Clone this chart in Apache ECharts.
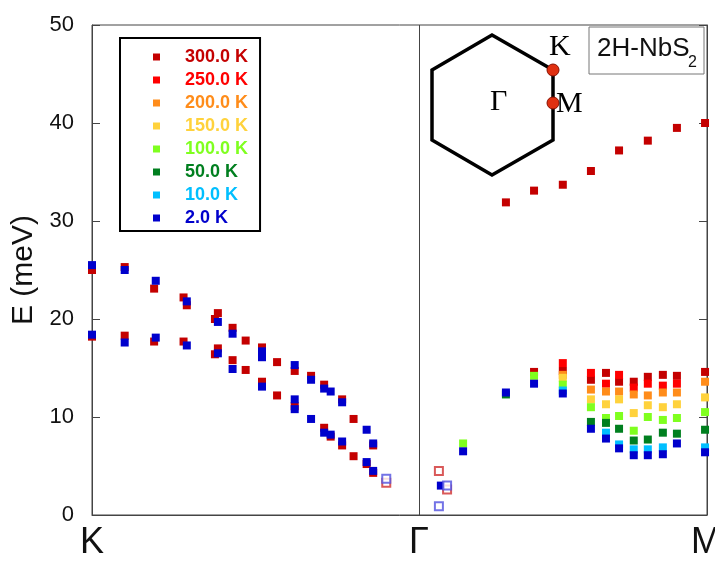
<!DOCTYPE html>
<html>
<head>
<meta charset="utf-8">
<script src="https://cdn.jsdelivr.net/npm/echarts@6/dist/echarts.min.js"></script>
<style>
  html, body { margin: 0; padding: 0; background: #fff; }
  #main { width: 715px; height: 562px; }
</style>
</head>
<body>
<div id="main"></div>
<script>
// momentum along K -> Γ -> M (K = 0, Γ = 1, M = 1.878), energy in meV
var pathLabels = ['K', 'Γ', 'M'];
var pathPos = [0, 1, 1.878];
var yTicks = [0, 10, 20, 30, 40, 50];

var tempNames = ['300.0 K', '250.0 K', '200.0 K', '150.0 K', '100.0 K', '50.0 K', '10.0 K', '2.0 K'];
var tempColors = ['#c40000', '#ff0000', '#ff8c1a', '#ffd23c', '#7fff1f', '#007f1f', '#00bfff', '#0000cc'];

var t300 = [
    [0, 25.0], [0.10, 25.3], [0.19, 23.1], [0.28, 22.2], [0.29, 21.4], [0.385, 20.6], [0.376, 20.0],
    [0.43, 19.1], [0.47, 17.8], [0.52, 17.1], [0.566, 15.6], [0.62, 14.7], [0.67, 14.2], [0.71, 13.3],
    [0.765, 11.8], [0.80, 9.8], [0.86, 7.1],
    [0, 18.2], [0.10, 18.3], [0.19, 17.7], [0.28, 17.7], [0.385, 17.0], [0.376, 16.4], [0.43, 15.8],
    [0.47, 14.8], [0.52, 13.6], [0.566, 12.2], [0.62, 11.1], [0.71, 8.9], [0.73, 8.0], [0.765, 7.1],
    [0.80, 6.0], [0.84, 5.2], [0.86, 4.3],
    [1.266, 31.9], [1.352, 33.1], [1.44, 33.7], [1.526, 35.1], [1.612, 37.2], [1.70, 38.2], [1.789, 39.5], [1.875, 40.0],
    [1.352, 14.6], [1.44, 14.7], [1.526, 13.8], [1.572, 14.5], [1.612, 13.6], [1.657, 13.6], [1.70, 14.1],
    [1.746, 14.3], [1.789, 14.2], [1.875, 14.6]
];
var t250 = [[1.44, 15.5], [1.526, 14.5], [1.572, 13.4], [1.612, 14.3], [1.657, 13.0], [1.70, 13.4], [1.746, 13.2], [1.789, 13.4]];
var t200 = [[1.44, 14.3], [1.526, 12.8], [1.572, 12.6], [1.612, 12.6], [1.657, 12.3], [1.70, 12.2], [1.746, 12.5], [1.789, 12.5], [1.875, 13.6]];
var t150 = [[1.44, 14.0], [1.526, 11.8], [1.572, 11.3], [1.612, 11.8], [1.657, 10.4], [1.70, 11.2], [1.746, 11.0], [1.789, 11.3], [1.875, 12.0]];
var t100 = [[1.135, 7.3], [1.352, 14.2], [1.44, 13.3], [1.526, 11.0], [1.572, 9.9], [1.612, 10.1], [1.657, 8.6], [1.70, 10.0], [1.746, 9.7], [1.789, 9.9], [1.875, 10.5]];
var t50 = [[1.266, 12.3], [1.526, 9.5], [1.572, 9.4], [1.612, 8.8], [1.657, 7.6], [1.70, 7.7], [1.746, 8.4], [1.789, 8.3], [1.875, 8.7]];
var t10 = [[1.44, 12.7], [1.572, 8.4], [1.612, 7.2], [1.657, 6.7], [1.70, 6.7], [1.746, 6.9], [1.875, 6.9]];
var t2 = [
    [0, 25.5], [0.10, 25.0], [0.195, 23.9], [0.29, 21.8], [0.385, 19.7], [0.43, 18.5], [0.52, 16.7], [0.52, 16.1],
    [0.62, 15.3], [0.67, 13.8], [0.71, 12.9], [0.73, 12.6], [0.765, 11.5], [0.84, 8.7], [0.86, 7.3],
    [0, 18.4], [0.10, 17.6], [0.195, 18.1], [0.29, 17.3], [0.385, 16.5], [0.43, 14.9], [0.52, 13.1],
    [0.62, 11.8], [0.62, 10.8], [0.67, 9.8], [0.71, 8.4], [0.73, 8.2], [0.765, 7.5], [0.84, 5.4], [0.86, 4.5],
    [1.067, 3.0], [1.135, 6.5], [1.266, 12.5], [1.352, 13.4], [1.44, 12.4], [1.526, 8.8], [1.572, 7.8],
    [1.612, 6.8], [1.657, 6.1], [1.70, 6.1], [1.746, 6.2], [1.789, 7.3], [1.875, 6.4]
];
// open symbols (weak / uncertain points)
var t300open = [[0.90, 3.3], [1.061, 4.5], [1.086, 2.6]];
var t2open = [[0.90, 3.7], [1.061, 0.9], [1.086, 3.0]];

var tempData = [t300, t250, t200, t150, t100, t50, t10, t2];

var chart = echarts.init(document.getElementById('main'), null, { renderer: 'canvas' });

var series = tempData.map(function (d, i) {
    return {
        name: tempNames[i],
        type: 'scatter',
        symbol: 'rect',
        symbolSize: 8,
        itemStyle: { color: tempColors[i], opacity: 1 },
        data: d,
        z: 2 + i
    };
});
series.unshift({
    name: '300 open',
    type: 'scatter',
    symbol: 'emptyRect',
    symbolSize: 8,
    itemStyle: { color: '#d03030', borderColor: '#d03030', borderWidth: 1 },
    data: t300open,
    markLine: {
        silent: true,
        symbol: 'none',
        label: { show: false },
        lineStyle: { color: '#444', width: 1, type: 'solid' },
        data: [{ xAxis: pathPos[1] }]
    }
});
series.push({
    name: '2 open',
    type: 'scatter',
    symbol: 'emptyRect',
    symbolSize: 8,
    itemStyle: { color: '#5050e0', borderColor: '#5050e0', borderWidth: 1 },
    data: t2open,
    z: 20
});

var option = {
    backgroundColor: '#fff',
    animation: false,
    grid: {
        left: 92, right: 8, top: 25, bottom: 47,
        outerBoundsMode: 'none',
        containLabel: false,
        show: true, borderColor: '#444', borderWidth: 1
    },
    legend: {
        left: 120,
        top: 38,
        orient: 'vertical',
        itemWidth: 7,
        itemHeight: 7,
        itemGap: 5,
        padding: [10, 12, 4, 33],
        borderColor: '#000',
        borderWidth: 2,
        icon: 'rect',
        textStyle: {
            fontFamily: 'Liberation Sans',
            fontWeight: 'bold',
            fontSize: 18,
            lineHeight: 18,
            padding: [0, 0, 0, 20]
        },
        data: tempNames.map(function (n, i) {
            return { name: n, textStyle: { color: tempColors[i] } };
        })
    },
    xAxis: {
        type: 'value',
        min: 0,
        max: 1.881,
        axisLine: { show: true, lineStyle: { color: '#444' } },
        axisTick: { show: false },
        splitLine: { show: false },
        axisLabel: {
            customValues: pathPos,
            formatter: function (v) {
                var k = pathPos.indexOf(v);
                return k >= 0 ? pathLabels[k] : '';
            },
            fontFamily: 'Liberation Sans',
            fontSize: 36,
            color: '#111',
            margin: 10
        }
    },
    yAxis: [
        {
            type: 'value',
            min: 0,
            max: 50,
            interval: 10,
            name: 'E (meV)',
            nameLocation: 'middle',
            nameGap: 52,
            nameTextStyle: { fontFamily: 'Liberation Sans', fontSize: 30, color: '#111' },
            axisLine: { show: true, lineStyle: { color: '#444' } },
            axisTick: { show: true, inside: true, length: 8, lineStyle: { color: '#444' } },
            splitLine: { show: false },
            axisLabel: {
                fontFamily: 'Liberation Sans', fontSize: 22, color: '#111', margin: 18,
                formatter: function (v) { return yTicks.indexOf(v) >= 0 ? String(v) : ''; }
            }
        },
        {
            type: 'value',
            position: 'right',
            min: 0,
            max: 50,
            interval: 10,
            axisLine: { show: true, lineStyle: { color: '#444' } },
            axisTick: { show: true, inside: true, length: 8, lineStyle: { color: '#444' } },
            splitLine: { show: false },
            axisLabel: { show: false }
        }
    ],
    graphic: [
        // Brillouin zone inset
        {
            type: 'polygon',
            shape: { points: [[492, 35], [553, 70], [553, 140], [492, 175], [432, 140], [432, 70]] },
            style: { fill: 'none', stroke: '#000', lineWidth: 3.5 },
            z: 30
        },
        { type: 'circle', shape: { cx: 553, cy: 70, r: 6 }, style: { fill: '#e03010', stroke: '#8a1000', lineWidth: 1 }, z: 31 },
        { type: 'circle', shape: { cx: 553, cy: 103, r: 6 }, style: { fill: '#e03010', stroke: '#8a1000', lineWidth: 1 }, z: 31 },
        { type: 'text', left: 549, top: 32, style: { text: 'K', font: '30px "Liberation Serif"', fill: '#000' }, z: 31 },
        { type: 'text', left: 556, top: 89, style: { text: 'M', font: '30px "Liberation Serif"', fill: '#000' }, z: 31 },
        { type: 'text', left: 490, top: 87, style: { text: 'Γ', font: '30px "Liberation Serif"', fill: '#000' }, z: 31 },
        // sample label box
        {
            type: 'rect',
            shape: { x: 589, y: 27, width: 115, height: 47 },
            style: { fill: '#fff', stroke: '#777', lineWidth: 1 },
            z: 30
        },
        { type: 'text', left: 597, top: 36, style: { text: '2H-NbS', font: '26px "Liberation Sans"', fill: '#111' }, z: 31 },
        { type: 'text', left: 688, top: 55, style: { text: '2', font: '16px "Liberation Sans"', fill: '#111' }, z: 31 }
    ],
    series: series
};

chart.setOption(option);
</script>
</body>
</html>
